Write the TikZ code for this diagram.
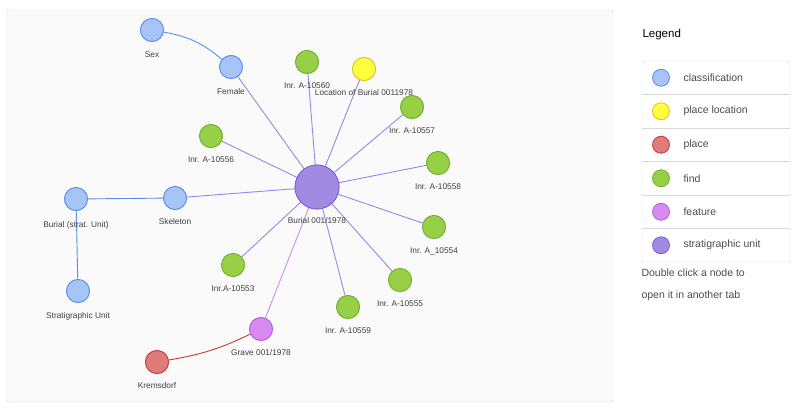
\documentclass[tikz,border=0pt]{standalone}
\usepackage{fontspec}
\setmainfont{Liberation Sans}
\begin{document}
\begin{tikzpicture}[x=1pt,y=-1pt,
  nd/.style={circle,minimum size=23pt,inner sep=0pt,line width=0.8pt},
  cls/.style={nd,fill=cls,draw=clsb},
  fnd/.style={nd,fill=fnd,draw=fndb},
  loc/.style={nd,fill=yel,draw=yelb},
  feat/.style={nd,fill=feat,draw=featb},
  plc/.style={nd,fill=plc,draw=plcb},
  su/.style={nd,fill=su,draw=sub},
  lab/.style={font=\fontsize{8.3}{10}\selectfont,text=black!75},
  ed/.style={line width=0.9pt,draw=edg},
  leg/.style={font=\fontsize{10.5}{12}\selectfont,text=black!70,anchor=west}]
\definecolor{cls}{HTML}{A6C4F5}\definecolor{clsb}{HTML}{5B8DEF}
\definecolor{fnd}{HTML}{97D047}\definecolor{fndb}{HTML}{72AE2E}
\definecolor{yel}{HTML}{FFFF40}\definecolor{yelb}{HTML}{E0C020}
\definecolor{feat}{HTML}{D88AF0}\definecolor{featb}{HTML}{B060D8}
\definecolor{plc}{HTML}{E07B7B}\definecolor{plcb}{HTML}{C83838}
\definecolor{su}{HTML}{A08AE2}\definecolor{sub}{HTML}{7A5FD8}
\definecolor{edg}{HTML}{9787EA}
\useasboundingbox (0,0) rectangle (800,410);
\draw[fill=black!2,draw=black!15,rounded corners=2pt] (7,10) rectangle (613,402);
% nodes
\node[su,minimum size=44pt] (c) at (317,187) {};
\node[cls] (sex) at (152,30) {};
\node[cls] (fem) at (231,67) {};
\node[fnd] (a60) at (307,62) {};
\node[loc] (loc) at (364,69) {};
\node[fnd] (a57) at (412,107) {};
\node[fnd] (a56) at (211,136) {};
\node[fnd] (a58) at (438,163) {};
\node[cls] (bsu) at (76,199) {};
\node[cls] (sk) at (175,198) {};
\node[fnd] (a54) at (434,227) {};
\node[fnd] (a53) at (233,265) {};
\node[fnd] (a55) at (400,280) {};
\node[cls] (str) at (78,291) {};
\node[fnd] (a59) at (348,307) {};
\node[feat] (gr) at (261,329) {};
\node[plc] (kr) at (157,362) {};
% edges
\foreach \n in {fem,a60,loc,a57,a56,a58,sk,a54,a53,a55,a59}
  \draw[ed] (c) -- (\n);
\draw[line width=0.9pt,draw=featb!70] (c) -- (gr);
\draw[line width=0.9pt,draw=clsb] (sex) to[bend left=15] (fem);
\draw[line width=0.9pt,draw=clsb] (bsu) -- (sk);
\draw[line width=0.9pt,draw=clsb] (bsu) -- (str);
\draw[line width=0.9pt,draw=plcb] (gr) to[bend left=8] (kr);
% redraw nodes on top
\node[su,minimum size=44pt] at (c) {};
\foreach \n/\s in {sex/cls,fem/cls,a60/fnd,loc/loc,a57/fnd,a56/fnd,a58/fnd,bsu/cls,sk/cls,a54/fnd,a53/fnd,a55/fnd,str/cls,a59/fnd,gr/feat,kr/plc}
  \node[\s] at (\n) {};
% labels
\node[lab] (lsex) at (152,55) {Sex};
\node[lab] (lfem) at (231,92) {Female};
\node[lab] (l60) at (307,86) {Inr. A-10560};
\node[lab] (lloc) at (364,93) {Location of Burial 0011978};
\node[lab] (l57) at (412,131) {Inr. A-10557};
\node[lab] (l56) at (211,160) {Inr. A-10556};
\node[lab] (l58) at (438,187) {Inr. A-10558};
\node[lab] (lc) at (317,221) {Burial 001/1978};
\node[lab] (lbsu) at (76,225) {Burial (strat. Unit)};
\node[lab] (lsk) at (175,222) {Skeleton};
\node[lab] (l54) at (434,251) {Inr. A\_10554};
\node[lab] (l53) at (233,289) {Inr.A-10553};
\node[lab] (l55) at (400,304) {Inr. A-10555};
\node[lab] (lstr) at (78,316) {Stratigraphic Unit};
\node[lab] (l59) at (348,331) {Inr. A-10559};
\node[lab] (lgr) at (261,353) {Grave 001/1978};
\node[lab] (lkr) at (157,386) {Kremsdorf};
% legend
\node[anchor=west,font=\fontsize{11.5}{13}\selectfont] (lt) at (639,35) {Legend};
\draw[draw=black!15,rounded corners=2pt] (642,61) rectangle (790,262);
\foreach \i in {1,...,5} \draw[black!15] (642,{61+\i*33.5}) -- (790,{61+\i*33.5});
\foreach \i/\s/\t in {0/cls/classification,1/loc/place location,2/plc/place,3/fnd/find,4/feat/feature,5/su/stratigraphic unit}{
  \node[\s,minimum size=17pt] (g\i) at (661,{77.75+\i*33.5}) {};
  \node[leg] (t\i) at (680,{77.75+\i*33.5}) {\t};}
\node[leg] (d1) at (638,273) {Double click a node to};
\node[leg] (d2) at (638,296) {open it in another tab};
\end{tikzpicture}
\end{document}
